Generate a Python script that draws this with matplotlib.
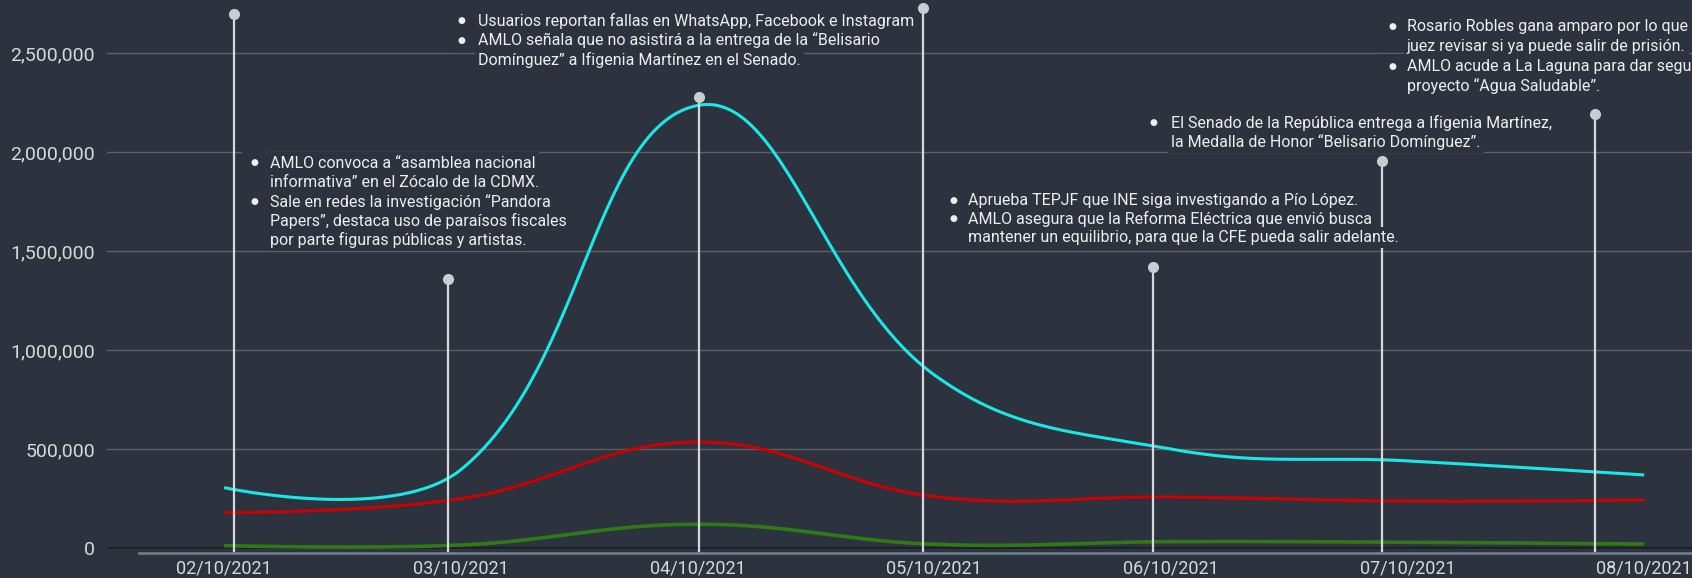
import numpy as np
import matplotlib
matplotlib.use("Agg")
import matplotlib.pyplot as plt
from matplotlib.ticker import FuncFormatter

# ---------------- data ----------------
dates = ["02/10/2021", "03/10/2021", "04/10/2021", "05/10/2021",
         "06/10/2021", "07/10/2021", "08/10/2021"]
cyan_vals = [305000, 395000, 2235000, 875000, 500000, 440000, 369000]
red_vals = [178000, 249000, 535000, 260000, 258000, 237000, 242000]
green_vals = [12000, 15000, 120000, 19000, 32000, 29000, 20000]

y_ticks = [0, 500000, 1000000, 1500000, 2000000, 2500000]

# event markers (position along the date axis, height of the marker)
event_pos = [0.042, 0.946, 2.007, 2.953, 3.925, 4.892, 5.792]
event_top = [2697000, 1359000, 2278000, 2727000, 1419000, 1955000, 2192000]

events_1 = [(True, "AMLO convoca a “asamblea nacional"),
            (False, "informativa” en el Zócalo de la CDMX."),
            (True, "Sale en redes la investigación “Pandora"),
            (False, "Papers”, destaca uso de paraísos fiscales"),
            (False, "por parte figuras públicas y artistas.")]
events_2 = [(True, "Usuarios reportan fallas en WhatsApp, Facebook e Instagram"),
            (True, "AMLO señala que no asistirá a la entrega de la “Belisario"),
            (False, "Domínguez” a Ifigenia Martínez en el Senado.")]
events_3 = [(True, "Aprueba TEPJF que INE siga investigando a Pío López."),
            (True, "AMLO asegura que la Reforma Eléctrica que envió busca"),
            (False, "mantener un equilibrio, para que la CFE pueda salir adelante.")]
events_4 = [(True, "El Senado de la República entrega a Ifigenia Martínez,"),
            (False, "la Medalla de Honor “Belisario Domínguez”.")]
events_5 = [(True, "Rosario Robles gana amparo por lo que el"),
            (False, "juez revisar si ya puede salir de prisión."),
            (True, "AMLO acude a La Laguna para dar seguimiento al"),
            (False, "proyecto “Agua Saludable”.")]

# ---------------- style ----------------
W, H = 1692, 578
BG = "#2d333e"
CYAN = "#1de6e6"
RED = "#cc0000"
GREEN = "#2f7a16"
TXT = "#eeeeee"
TICK = "#d8d8d8"

plt.rcParams["font.family"] = ["Roboto", "DejaVu Sans"]

fig = plt.figure(figsize=(W / 100, H / 100), dpi=100, facecolor=BG)
left_px, bottom_px = 107, 553
ax = fig.add_axes([left_px / W, (H - bottom_px) / H, 1 - left_px / W, bottom_px / H])
ax.set_facecolor(BG)

px_per_x = 236.7
val_per_px = 5050.5
ax.set_xlim(-(224 - left_px) / px_per_x, (W - 224) / px_per_x)
ax.set_ylim(-(bottom_px - 548) * val_per_px, 548 * val_per_px)


def spline(vals, tension=0.4, n=60):
    """Cubic bezier smoothing through the points (control points computed in pixel space)."""
    xs = np.arange(len(vals)) * px_per_x
    ys = np.array(vals, dtype=float) / val_per_px
    pts = np.column_stack([xs, ys])
    last = len(pts) - 1
    cprev, cnext = [], []
    for i in range(len(pts)):
        cur = pts[i]
        if i == 0 or i == last:
            cprev.append(cur.copy())
            cnext.append(cur.copy())
            continue
        prev, nxt = pts[i - 1], pts[i + 1]
        d01 = np.hypot(*(cur - prev))
        d12 = np.hypot(*(nxt - cur))
        tot = d01 + d12
        cprev.append(cur - tension * d01 / tot * (nxt - prev))
        cnext.append(cur + tension * d12 / tot * (nxt - prev))
    out = []
    t = np.linspace(0, 1, n)[:, None]
    for i in range(last):
        p0, p1, p2, p3 = pts[i], cnext[i], cprev[i + 1], pts[i + 1]
        seg = ((1 - t) ** 3) * p0 + 3 * ((1 - t) ** 2) * t * p1 + 3 * (1 - t) * t ** 2 * p2 + t ** 3 * p3
        out.append(seg if i == 0 else seg[1:])
    out = np.vstack(out)
    return out[:, 0] / px_per_x, out[:, 1] * val_per_px


# grid
ax.set_yticks(y_ticks)
ax.yaxis.grid(True, color="#5b6069", linewidth=1.0, zorder=0)
ax.set_axisbelow(True)
ax.axhline(0, color="#1c2027", linewidth=1.6, zorder=1)

for vals, col, lw in [(green_vals, GREEN, 2.6), (red_vals, RED, 2.2), (cyan_vals, CYAN, 2.2)]:
    sx, sy = spline(vals)
    ax.plot(sx, sy, color=col, linewidth=lw, solid_capstyle="butt", zorder=3)

# event lines
for xp, top in zip(event_pos, event_top):
    ax.plot([xp, xp], [-15000, top], color="#d6d8dd", linewidth=1.6, zorder=4)
    ax.plot([xp], [top], "o", color="#c9ccd3", markersize=8, markeredgewidth=0, zorder=5)

# axes styling
for s in ["top", "right", "left"]:
    ax.spines[s].set_visible(False)
ax.spines["bottom"].set_color("#6e7b8c")
ax.spines["bottom"].set_linewidth(2)
ax.spines["bottom"].set_bounds((139 - 224) / px_per_x, (W - 224) / px_per_x)
ax.set_xticks(range(len(dates)))
ax.set_xticklabels(dates)
ax.yaxis.set_major_formatter(FuncFormatter(lambda v, p: f"{int(v):,}"))
ax.tick_params(axis="both", length=0, colors=TICK)
ax.tick_params(axis="x", pad=5, labelsize=13)
ax.tick_params(axis="y", pad=8.5, labelsize=14)


def annotate(lines, bx, tx, y0, step):
    for k, (bullet, text) in enumerate(lines):
        y = 1 - (y0 + k * step) / H
        if bullet:
            fig.text(bx / W, y, "●", fontsize=6.5, color=TXT, va="center", ha="center",
                     bbox=dict(boxstyle="square,pad=0.9", fc=BG, ec="none"), zorder=7)
        fig.text(tx / W, y, text, fontsize=11.5, color=TXT, va="center", ha="left",
                 bbox=dict(boxstyle="square,pad=0.2", fc=BG, ec="none"), zorder=8)


annotate(events_1, 254, 270, 163, 19.3)
annotate(events_2, 461, 478, 21, 19.3)
annotate(events_3, 953, 968, 200, 18.8)
annotate(events_4, 1153, 1171, 123, 19.3)
annotate(events_5, 1392, 1407, 27, 19.7)

fig.savefig("out.png", dpi=100, facecolor=BG)
